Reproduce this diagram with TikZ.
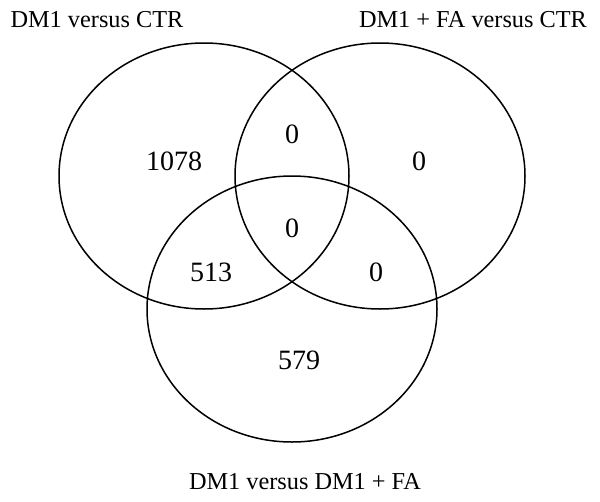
\documentclass[tikz,border=0pt]{standalone}
\usepackage{fontspec}
\setmainfont{Liberation Serif}
\begin{document}
\begin{tikzpicture}[x=1pt,y=-1pt,
  setline/.style={draw=black,line width=1.5pt},
  lbl/.style={inner sep=0pt,font=\fontsize{24.3}{26}\selectfont},
  num/.style={inner sep=0pt,font=\fontsize{28}{30}\selectfont}]
\useasboundingbox (0,0) rectangle (600,501);
\draw[setline] (204,176) ellipse [x radius=145pt, y radius=133pt];
\draw[setline] (380,176) ellipse [x radius=145pt, y radius=133pt];
\draw[setline] (292,309) ellipse [x radius=145pt, y radius=133pt];
\node[lbl] (la) at (97,19.5) {DM1 versus CTR};
\node[lbl] (lb) at (473,19.5) {DM1 + FA versus CTR};
\node[lbl] (lc) at (305,482) {DM1 versus DM1 + FA};
\node[num] (n1) at (174,161) {1078};
\node[num] (n2) at (292,134) {0};
\node[num] (n3) at (419,161) {0};
\node[num] (n4) at (292,228) {0};
\node[num] (n5) at (211,272) {513};
\node[num] (n6) at (376,272) {0};
\node[num] (n7) at (299,360) {579};
\end{tikzpicture}
\end{document}
